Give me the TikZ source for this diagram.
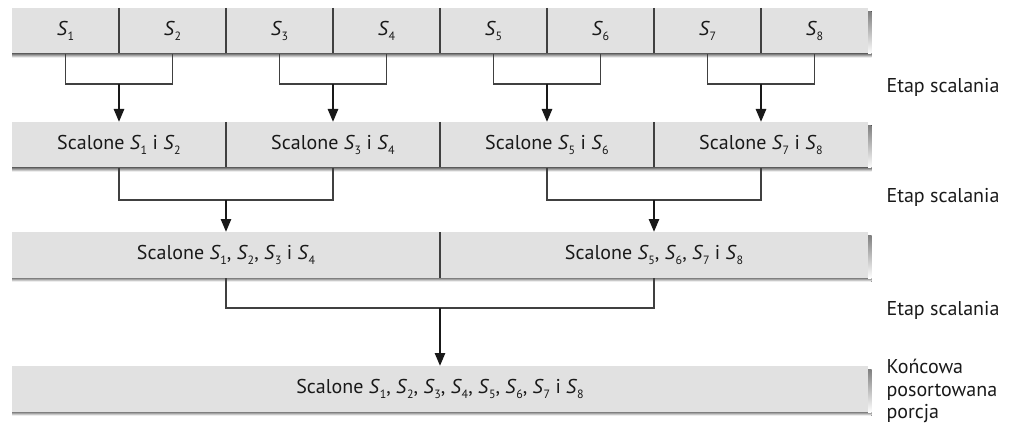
\documentclass[tikz,border=0pt]{standalone}
\usepackage{fontspec}
\setmainfont{PT Sans}
\usetikzlibrary{arrows.meta,positioning}
\definecolor{cell}{HTML}{E1E1E1}
\definecolor{edge}{HTML}{404040}
\definecolor{shade}{HTML}{3C3C3C}
\newcommand{\seg}[1]{\textit{S}\kern-0.3pt\raisebox{-0.45ex}{\fontsize{12}{12}\selectfont#1}}

\begin{document}
\begin{tikzpicture}[
  x=1pt, y=-1pt,
  every node/.style={font=\fontsize{20}{22.5}\selectfont, text=black!90},
  cell/.style={fill=cell, minimum height=46pt, inner sep=0pt, outer sep=0pt},
  link/.style={draw=edge, line width=1.1pt},
  arr/.style={draw=black!90, line width=2.6pt, -{Triangle[length=13pt,width=10pt]}},
  sep/.style={draw=edge, line width=1.4pt},
  stage/.style={anchor=west, align=left}
]
  \useasboundingbox (0,0) rectangle (1015,425);
  \def\cw{107pt}

  % Row 1: the eight runs
  \node[cell, minimum width=\cw, anchor=north west] (s1) at (12,8) {\seg{1}};
  \foreach \i [count=\j from 2] in {1,...,7}
    \node[cell, minimum width=\cw, right=0pt of s\i] (s\j) {\seg{\j}};

  % Row 2: pairs
  \node[cell, minimum width=2*\cw, anchor=north west] (m12) at (12,122) {Scalone \seg{1} i \seg{2}};
  \node[cell, minimum width=2*\cw, right=0pt of m12] (m34) {Scalone \seg{3} i \seg{4}};
  \node[cell, minimum width=2*\cw, right=0pt of m34] (m56) {Scalone \seg{5} i \seg{6}};
  \node[cell, minimum width=2*\cw, right=0pt of m56] (m78) {Scalone \seg{7} i \seg{8}};

  % Row 3: quads
  \node[cell, minimum width=4*\cw, anchor=north west] (m14) at (12,232) {Scalone \seg{1}, \seg{2}, \seg{3} i \seg{4}};
  \node[cell, minimum width=4*\cw, right=0pt of m14] (m58) {Scalone \seg{5}, \seg{6}, \seg{7} i \seg{8}};

  % Row 4: everything
  \node[cell, minimum width=8*\cw, anchor=north west] (m18) at (12,366)
    {Scalone \seg{1}, \seg{2}, \seg{3}, \seg{4}, \seg{5}, \seg{6}, \seg{7} i \seg{8}};

  % dividers between cells
  \foreach \i in {1,...,7}
    \draw[sep] (s\i.north east) -- (s\i.south east);
  \foreach \n in {m12,m34,m56,m14}
    \draw[sep] (\n.north east) -- (\n.south east);

  % dark edge along bottom and right of each row
  \foreach \l/\r in {s1/s8, m12/m78, m14/m58, m18/m18} {
    \fill[shade] (\l.south west) rectangle ([shift={(3.5,3.5)}]\r.south east);
    \fill[shade] ([shift={(0,3.5)}]\r.north east) rectangle ([shift={(3.5,0)}]\r.south east);
  }

  % merge brackets
  \foreach \a/\b/\m in {s1/s2/m12, s3/s4/m34, s5/s6/m56, s7/s8/m78} {
    \draw[link] (\a.south) -- ++(0,30) coordinate (j\m) -| (\b.south);
    \draw[arr] (j\m -| \m.north) -- (\m.north);
  }
  \foreach \a/\b/\m in {m12/m34/m14, m56/m78/m58} {
    \draw[link] (\a.south) -- ++(0,32) coordinate (j\m) -| (\b.south);
    \draw[arr] (j\m -| \m.north) -- (\m.north);
  }
  \draw[link] (m14.south) -- ++(0,30) coordinate (jm18) -| (m58.south);
  \draw[arr] (jm18 -| m18.north) -- (m18.north);

  % stage labels
  \node[stage] (e1) at (883,87) {Etap scalania};
  \node[stage] (e2) at (883,197) {Etap scalania};
  \node[stage] (e3) at (883,310) {Etap scalania};
  \node[stage] (fin) at (883,391) {Końcowa\\posortowana\\porcja};
\end{tikzpicture}
\end{document}
